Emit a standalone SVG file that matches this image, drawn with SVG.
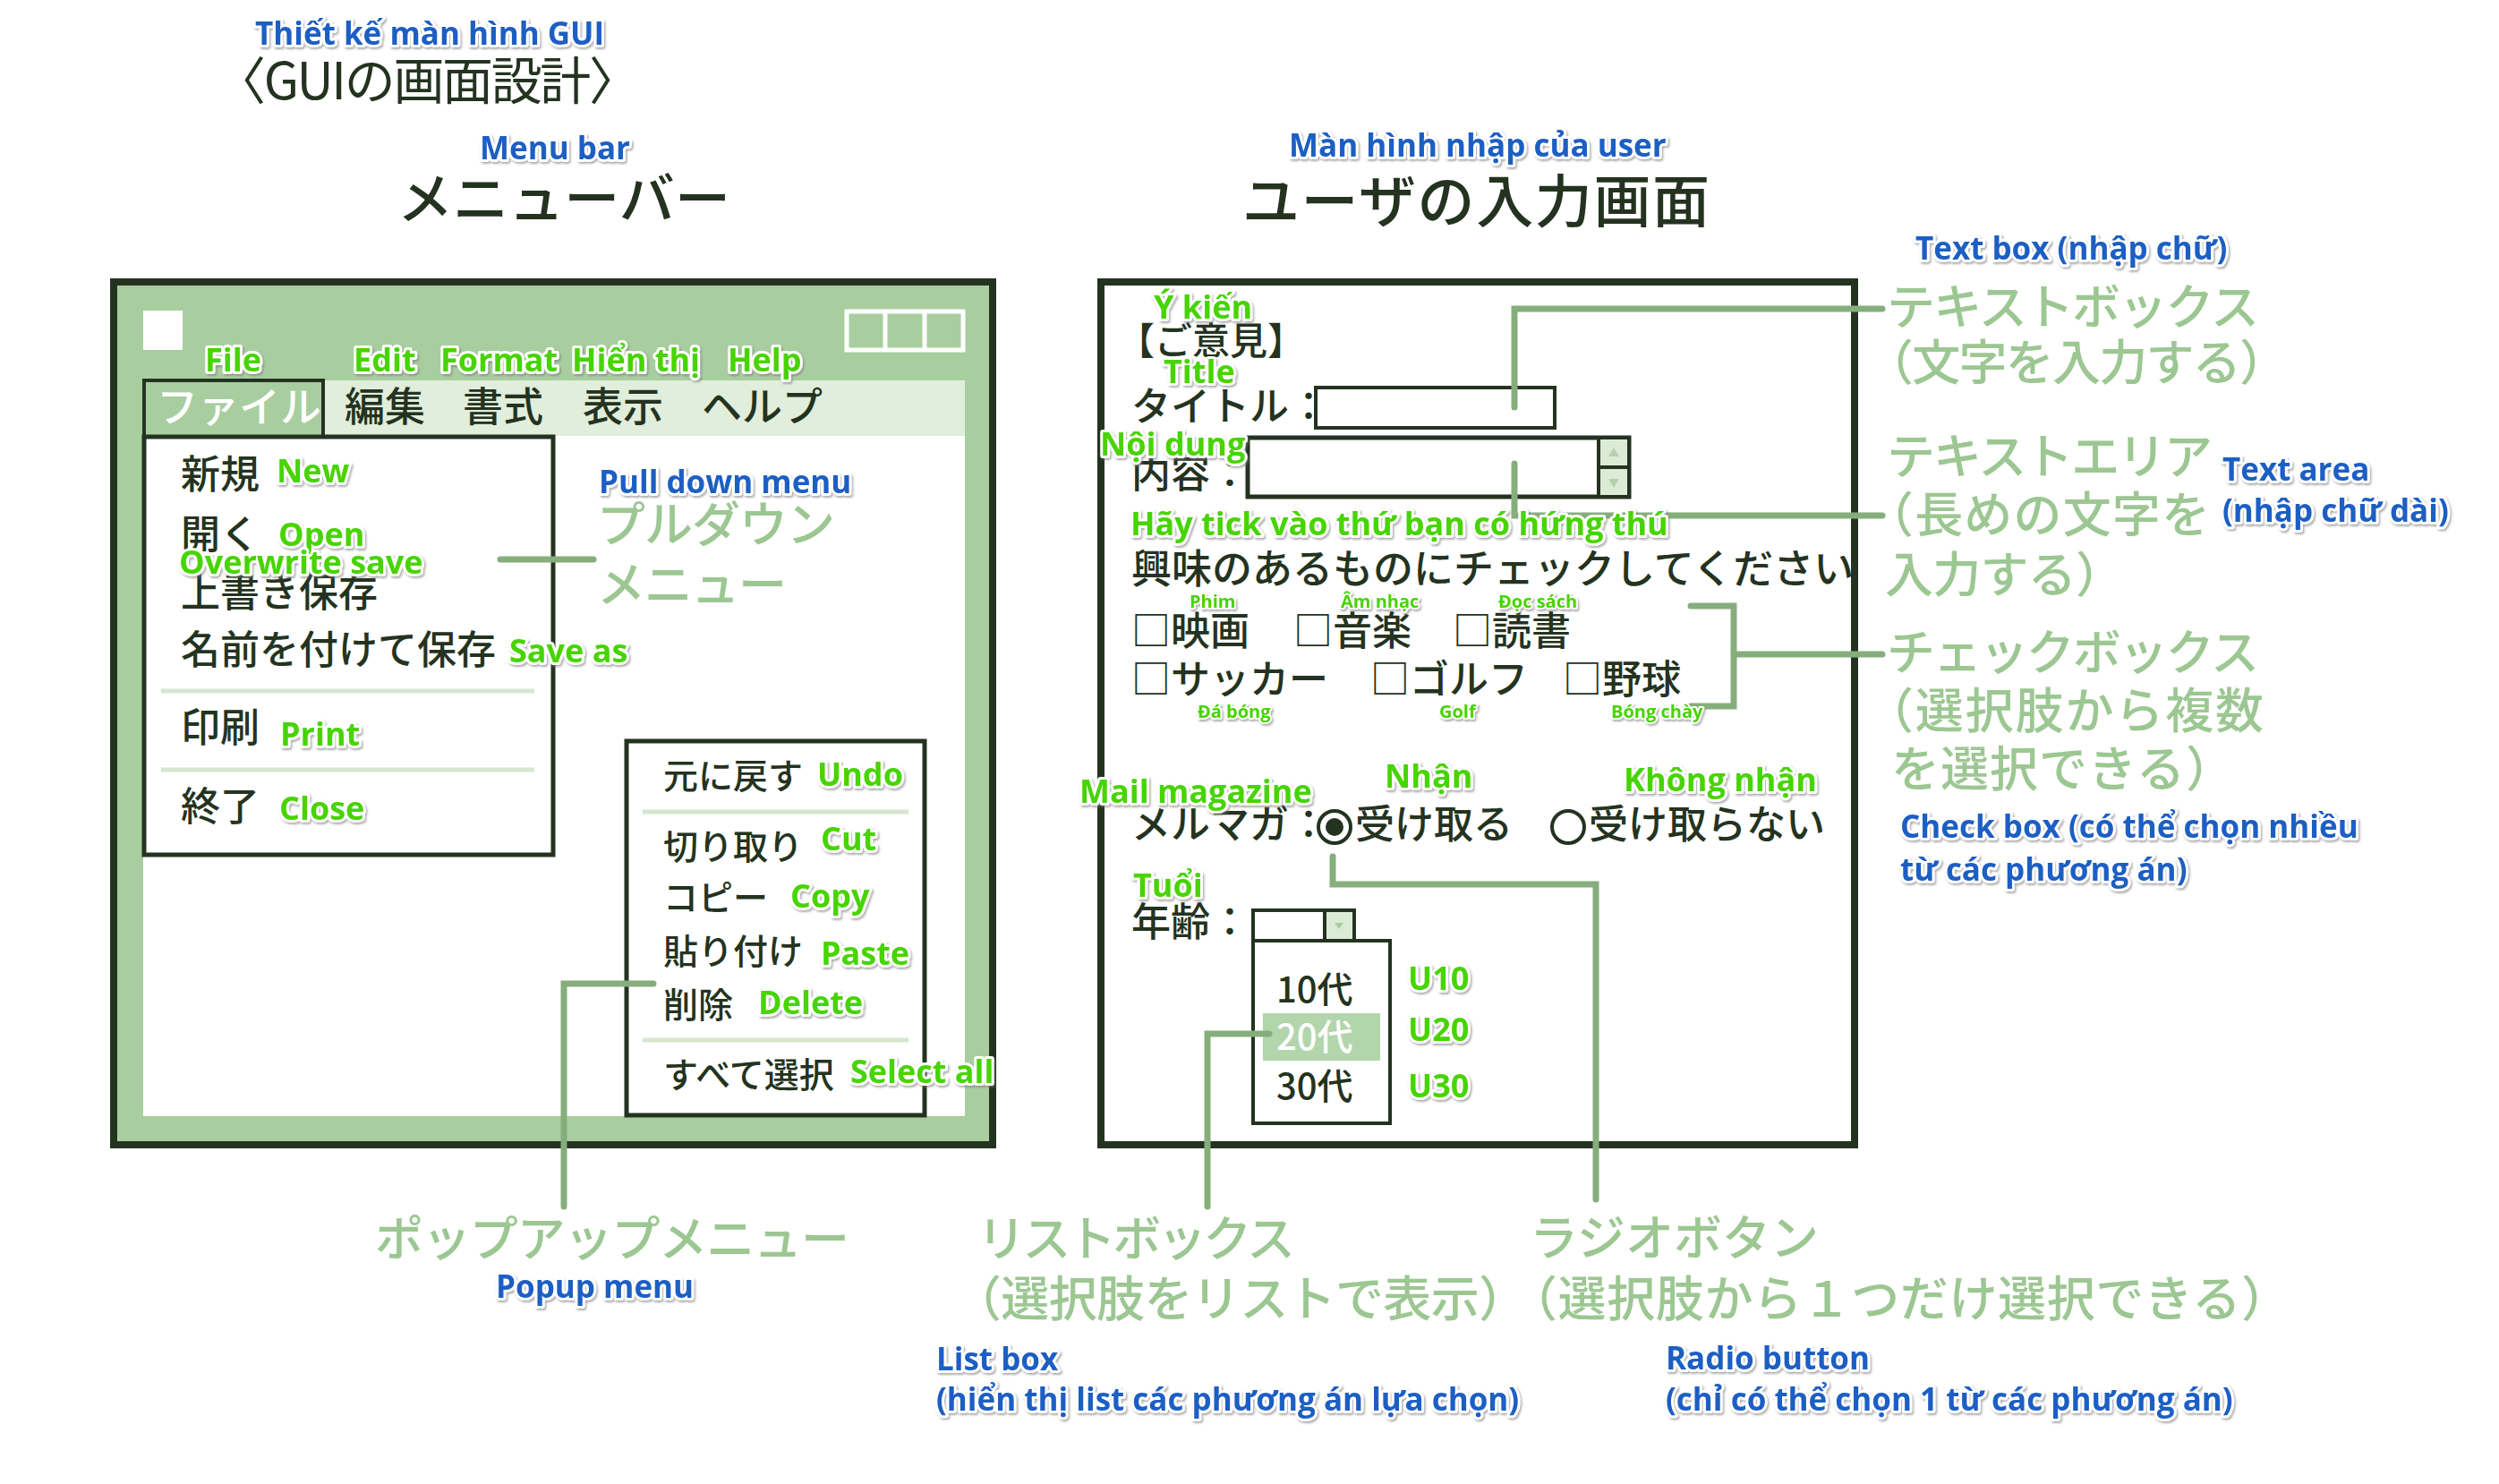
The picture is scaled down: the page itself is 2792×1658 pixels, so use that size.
<svg xmlns="http://www.w3.org/2000/svg" width="2792" height="1658" viewBox="0 0 2792 1658">
<defs>
<style>
.jp{font-family:"Noto Sans CJK JP","Noto Sans",sans-serif;font-weight:500;fill:#243320}
.ann{font-family:"Noto Sans CJK JP","Noto Sans",sans-serif;font-weight:500;fill:#9cc792;font-size:54px}
.lbl{font-family:"Open Sans","Noto Sans",sans-serif;font-weight:700;stroke:#fff;stroke-width:6px;stroke-linejoin:round;paint-order:stroke}
.g{fill:#47d400}
.b{fill:#1f5ec4}
.wt{fill:#fff}
.box{fill:#fff;stroke:#243320}
.con{fill:none;stroke:#86ae7c;stroke-width:7;stroke-linecap:round}
.sep{stroke:#d5e8cf;stroke-width:5}
</style>
<filter id="sh" x="-5%" y="-5%" width="110%" height="110%">
<feDropShadow dx="1.5" dy="2" stdDeviation="0.8" flood-color="#777" flood-opacity="0.6"/>
</filter>
</defs>
<rect width="2792" height="1658" fill="#fff"/>

<g id="titles">
<text class="jp" x="240" y="111" font-size="57" style="font-weight:400" textLength="475">〈GUIの画面設計〉</text>
<text class="jp" x="444" y="245" font-size="62" textLength="372">メニューバー</text>
<text class="jp" x="1388" y="248" font-size="64" textLength="522">ユーザの入力画面</text>
</g>

<g id="left-window">
<rect x="127" y="315" width="982" height="964" fill="#a8cea0" stroke="#243320" stroke-width="8"/>
<rect x="160" y="347" width="44" height="44" fill="#fff"/>
<g fill="none" stroke="#fff" stroke-width="5">
<rect x="946" y="348" width="130" height="43"/>
<line x1="989" y1="348" x2="989" y2="391"/>
<line x1="1033" y1="348" x2="1033" y2="391"/>
</g>
<rect x="160" y="425" width="918" height="62" fill="#e0eedb"/>
<rect x="160" y="487" width="918" height="760" fill="#fff"/>
<rect x="161" y="425" width="200" height="63" fill="#a8cea0" stroke="#243320" stroke-width="4"/>
<text class="jp wt" x="175" y="471" font-size="46">ファイル</text>
<text class="jp" x="385" y="471" font-size="45">編集</text>
<text class="jp" x="517" y="471" font-size="45">書式</text>
<text class="jp" x="651" y="471" font-size="45">表示</text>
<text class="jp" x="784" y="471" font-size="45">ヘルプ</text>
</g>

<g id="pulldown-menu">
<rect class="box" x="161" y="488" width="457" height="467" stroke-width="5"/>
<g class="jp" font-size="44">
<text x="202" y="546">新規</text>
<text x="202" y="613">開く</text>
<text x="202" y="678">上書き保存</text>
<text x="202" y="742">名前を付けて保存</text>
<text x="202" y="829">印刷</text>
<text x="202" y="917">終了</text>
</g>
<line class="sep" x1="180" y1="772" x2="597" y2="772"/>
<line class="sep" x1="180" y1="860" x2="597" y2="860"/>
</g>

<g id="popup-menu">
<rect class="box" x="700" y="828" width="333" height="418" stroke-width="5"/>
<g class="jp" font-size="39">
<text x="741" y="881">元に戻す</text>
<text x="741" y="960">切り取り</text>
<text x="741" y="1017">コピー</text>
<text x="741" y="1077">貼り付け</text>
<text x="741" y="1137">削除</text>
<text x="741" y="1215">すべて選択</text>
</g>
<line class="sep" x1="718" y1="907" x2="1015" y2="907"/>
<line class="sep" x1="718" y1="1162" x2="1015" y2="1162"/>
</g>

<g id="right-window">
<rect x="1230" y="315" width="842" height="964" fill="#fff" stroke="#243320" stroke-width="8"/>
<text class="jp" x="1248" y="396" font-size="42">【ご意見】</text>
<text class="jp" x="1264" y="470" font-size="44">タイトル：</text>
<text class="jp" x="1264" y="545" font-size="44">内容：</text>
<text class="jp" x="1264" y="652" font-size="45">興味のあるものにチェックしてください</text>
</g>

<g id="textbox">
<rect class="box" x="1470" y="433" width="267" height="45" stroke-width="4"/>
</g>

<g id="textarea">
<rect class="box" x="1394" y="489" width="426" height="66" stroke-width="5"/>
<rect x="1786" y="489" width="34" height="66" fill="#dcebd6" stroke="#243320" stroke-width="4"/>
<line x1="1786" y1="522" x2="1820" y2="522" stroke="#243320" stroke-width="4"/>
<polygon points="1803,500 1809,510 1797,510" fill="#b5d2ad"/>
<polygon points="1803,545 1809,535 1797,535" fill="#b5d2ad"/>
</g>

<g id="checkboxes">
<g class="jp" font-size="44">
<text x="1264" y="721">□映画</text>
<text x="1445" y="721">□音楽</text>
<text x="1623" y="721">□読書</text>
<text x="1264" y="775">□サッカー</text>
<text x="1531" y="775">□ゴルフ</text>
<text x="1746" y="775">□野球</text>
</g>
</g>

<g id="radio">
<text class="jp" x="1264" y="937" font-size="44">メルマガ：</text>
<circle cx="1491" cy="924" r="18" fill="#fff" stroke="#243320" stroke-width="4"/>
<circle cx="1491" cy="924" r="10" fill="#243320"/>
<text class="jp" x="1514" y="937" font-size="44">受け取る</text>
<circle cx="1752" cy="924" r="18" fill="#fff" stroke="#243320" stroke-width="4"/>
<text class="jp" x="1775" y="937" font-size="44">受け取らない</text>
</g>

<g id="dropdown">
<text class="jp" x="1264" y="1046" font-size="44">年齢：</text>
<rect class="box" x="1400" y="1017" width="113" height="35" stroke-width="4"/>
<rect x="1480" y="1017" width="33" height="35" fill="#dcebd6" stroke="#243320" stroke-width="4"/>
<polygon points="1491,1031 1501,1031 1496,1038" fill="#a8cea0"/>
</g>

<g id="listbox">
<rect class="box" x="1400" y="1051" width="153" height="204" stroke-width="4"/>
<rect x="1411" y="1132" width="131" height="53" fill="#b3d5ab"/>
<g class="jp" font-size="40">
<text x="1426" y="1120">10代</text>
<text class="wt" x="1426" y="1173">20代</text>
<text x="1426" y="1228">30代</text>
</g>
</g>

<g id="connectors">
<path class="con" d="M559 625 H663"/>
<path class="con" d="M630 1348 V1099 H730"/>
<path class="con" d="M1692 455 V345 H2103"/>
<path class="con" d="M1692 518 V576 H2103"/>
<path class="con" d="M1889 677 H1937 V789 H1889 M1937 731 H2103"/>
<path class="con" d="M1489 957 V988 H1783 V1340"/>
<path class="con" d="M1418 1155 H1349 V1348"/>
</g>

<g id="annotations">
<text class="ann" x="667" y="606" textLength="266">プルダウン</text>
<text class="ann" x="667" y="673" textLength="212">メニュー</text>
<text class="ann" x="419" y="1404" textLength="530">ポップアップメニュー</text>
<text class="ann" x="1092" y="1404" textLength="355">リストボックス</text>
<text class="ann" x="1065" y="1471" textLength="641">（選択肢をリストで表示）</text>
<text class="ann" x="1709" y="1403" textLength="323">ラジオボタン</text>
<text class="ann" x="1686" y="1471" textLength="872">（選択肢から１つだけ選択できる）</text>
<text class="ann" x="2108" y="363" textLength="416">テキストボックス</text>
<text class="ann" x="2084" y="425" textLength="472">（文字を入力する）</text>
<text class="ann" x="2108" y="530" textLength="364">テキストエリア</text>
<text class="ann" x="2084" y="595" textLength="385">（長めの文字を</text>
<text class="ann" x="2106" y="662" textLength="267">入力する）</text>
<text class="ann" x="2108" y="749" textLength="416">チェックボックス</text>
<text class="ann" x="2084" y="814" textLength="445">（選択肢から複数</text>
<text class="ann" x="2113" y="879" textLength="383">を選択できる）</text>
</g>

<g id="labels" filter="url(#sh)">
<g class="lbl b" font-size="35">
<text x="285" y="50">Thiết kế màn hình GUI</text>
<text x="536" y="178">Menu bar</text>
<text x="1440" y="175">Màn hình nhập của user</text>
<text x="2140" y="290">Text box (nhập chữ)</text>
<text x="669" y="551">Pull down menu</text>
<text x="2483" y="537">Text area</text>
<text x="2483" y="583">(nhập chữ dài)</text>
<text x="2123" y="936">Check box (có thể chọn nhiều</text>
<text x="2123" y="984">từ các phương án)</text>
<text x="554" y="1450">Popup menu</text>
<text x="1046" y="1531">List box</text>
<text x="1046" y="1576">(hiển thị list các phương án lựa chọn)</text>
<text x="1861" y="1530">Radio button</text>
<text x="1861" y="1576">(chỉ có thể chọn 1 từ các phương án)</text>
</g>
<g class="lbl g" font-size="36">
<text x="229" y="415">File</text>
<text x="395" y="415">Edit</text>
<text x="492" y="415">Format</text>
<text x="639" y="415">Hiển thị</text>
<text x="813" y="415">Help</text>
<text x="309" y="539">New</text>
<text x="311" y="610">Open</text>
<text x="200" y="641">Overwrite save</text>
<text x="569" y="740">Save as</text>
<text x="313" y="833">Print</text>
<text x="312" y="916">Close</text>
<text x="913" y="878">Undo</text>
<text x="917" y="950">Cut</text>
<text x="883" y="1014">Copy</text>
<text x="917" y="1078">Paste</text>
<text x="847" y="1133">Delete</text>
<text x="950" y="1210">Select all</text>
<text x="1289" y="356">Ý kiến</text>
<text x="1300" y="428">Title</text>
<text x="1229" y="509">Nội dung</text>
<text x="1263" y="598">Hãy tick vào thứ bạn có hứng thú</text>
<text x="1206" y="897">Mail magazine</text>
<text x="1547" y="880">Nhận</text>
<text x="1814" y="884">Không nhận</text>
<text x="1266" y="1002">Tuổi</text>
<text x="1573" y="1106">U10</text>
<text x="1573" y="1163">U20</text>
<text x="1573" y="1226">U30</text>
</g>
<g class="lbl g" font-size="20" style="stroke-width:4px">
<text x="1329" y="679">Phim</text>
<text x="1498" y="679">Âm nhạc</text>
<text x="1674" y="679">Đọc sách</text>
<text x="1338" y="802">Đá bóng</text>
<text x="1608" y="802">Golf</text>
<text x="1800" y="802">Bóng chày</text>
</g>
</g>
</svg>
